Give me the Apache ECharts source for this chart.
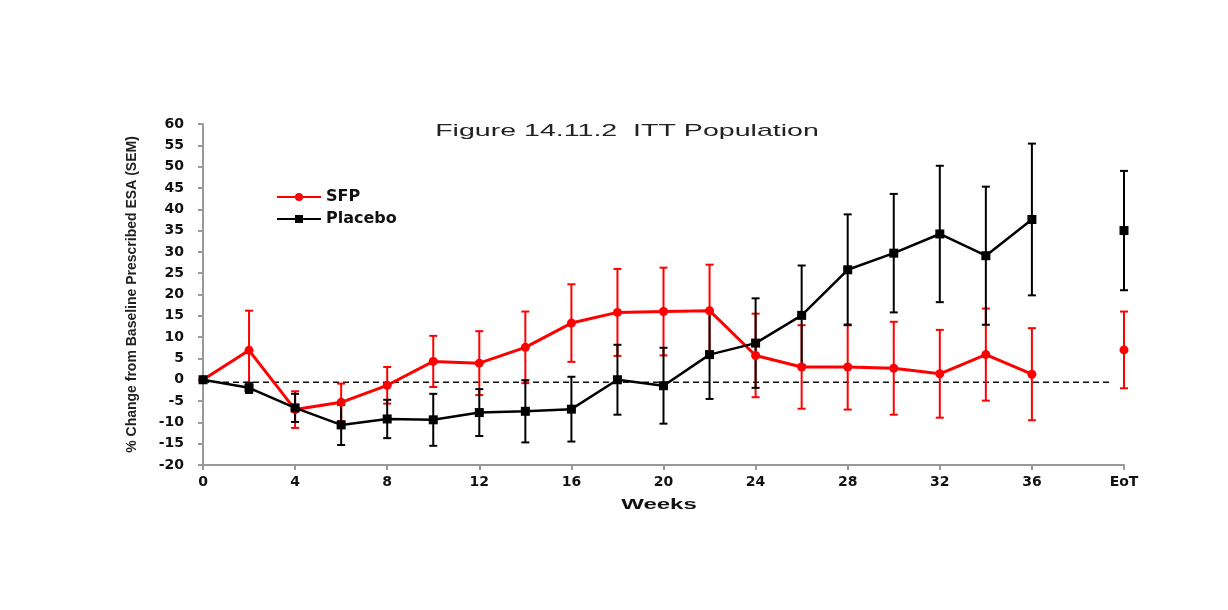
<!DOCTYPE html>
<html>
<head>
<meta charset="utf-8">
<script src="https://cdn.jsdelivr.net/npm/echarts@6/dist/echarts.min.js"></script>
<style>
  html, body { margin: 0; padding: 0; background: #fff; }
  #chart { width: 1228px; height: 610px; }
</style>
</head>
<body>
<div id="chart"></div>
<script>
// weeks 0..36, end of treatment drawn apart at x = 40
var weeks = [0, 2, 4, 6, 8, 10, 12, 14, 16, 18, 20, 22, 24, 26, 28, 30, 32, 34, 36];
var eotX = 40;
var eotLabel = "EoT";

var sfpMean = [0, 6.9, -7.0, -5.3, -1.3, 4.3, 3.9, 7.6, 13.3, 15.8, 16.0, 16.2, 5.7, 3.0, 3.0, 2.7, 1.4, 5.9, 1.3];
var sfpSem = [0, 9.3, 4.3, 4.4, 4.3, 6.0, 7.5, 8.4, 9.1, 10.2, 10.3, 10.8, 9.8, 9.8, 10.0, 10.9, 10.3, 10.8, 10.8];
var sfpEot = 7.0, sfpEotSem = 9.0;

var pboMean = [0, -1.9, -6.6, -10.6, -9.2, -9.4, -7.7, -7.4, -6.9, 0, -1.4, 5.9, 8.6, 15.1, 25.8, 29.7, 34.2, 29.1, 37.6];
var pboSem = [0, 1.2, 3.3, 4.7, 4.5, 6.1, 5.5, 7.3, 7.6, 8.2, 8.9, 10.4, 10.5, 11.7, 13.0, 13.9, 16.0, 16.2, 17.8];
var pboEot = 35.0, pboEotSem = 14.0;

var baselineX = [0, 39.4];
var baselineY = -0.6;

var yTicks = { min: -20, max: 60, step: 5 };
var xTicks = { min: 0, max: 40, step: 4 };

function lineData(mean, eot) {
  var d = weeks.map(function (w, i) { return [w, mean[i]]; });
  d.push([38, '-']);
  d.push([eotX, eot]);
  return d;
}
function barData(mean, sem, eot, eotSem) {
  var d = weeks.map(function (w, i) { return [w, mean[i] - sem[i], mean[i] + sem[i]]; });
  d.push([eotX, eot - eotSem, eot + eotSem]);
  return d;
}
function errorBars(color) {
  return function (params, api) {
    var lo = api.coord([api.value(0), api.value(1)]);
    var hi = api.coord([api.value(0), api.value(2)]);
    var w = 4;
    var st = { stroke: color, lineWidth: 2 };
    return {
      type: 'group',
      children: [
        { type: 'line', shape: { x1: lo[0], y1: lo[1], x2: hi[0], y2: hi[1] }, style: st },
        { type: 'line', shape: { x1: lo[0] - w, y1: lo[1], x2: lo[0] + w, y2: lo[1] }, style: st },
        { type: 'line', shape: { x1: hi[0] - w, y1: hi[1], x2: hi[0] + w, y2: hi[1] }, style: st }
      ]
    };
  };
}

var chart = echarts.init(document.getElementById('chart'));
var font = 'Liberation Sans, Arial, sans-serif';
var wide = 'DejaVu Sans, Verdana, sans-serif';
chart.setOption({
  animation: false,
  textStyle: { fontFamily: font },
  // the source picture is stretched sideways, so these texts are widened too
  graphic: [
    {
      type: 'text', x: 627, y: 131, scaleX: 1.68,
      style: {
        text: 'Figure 14.11.2  ITT Population', align: 'center', verticalAlign: 'middle',
        font: 'normal 17px Liberation Sans, Arial, sans-serif', fill: '#222'
      }
    },
    {
      type: 'text', x: 659, y: 505, scaleX: 1.6,
      style: {
        text: 'Weeks', align: 'center', verticalAlign: 'middle',
        font: 'bold 15px Liberation Sans, Arial, sans-serif', fill: '#111'
      }
    }
  ],
  legend: {
    orient: 'vertical', left: 271, top: 184, itemGap: 6, itemWidth: 44, itemHeight: 10,
    data: ['SFP', 'Placebo'],
    textStyle: { fontSize: 16, fontWeight: 'bold', color: '#111', fontFamily: wide }
  },
  grid: { left: 203, right: 104, top: 124, bottom: 145 },
  xAxis: {
    type: 'value', min: xTicks.min, max: xTicks.max, interval: xTicks.step,
    axisLine: { onZero: false, lineStyle: { color: '#999', width: 2 } },
    axisTick: { length: 5, lineStyle: { color: '#999', width: 2 } },
    axisLabel: {
      fontSize: 14, fontWeight: 'bold', color: '#111', margin: 10, fontFamily: wide,
      formatter: function (v) { return v === eotX ? eotLabel : String(v); }
    },
    splitLine: { show: false }
  },
  yAxis: {
    type: 'value', min: yTicks.min, max: yTicks.max, interval: yTicks.step,
    name: '% Change from Baseline Prescribed ESA (SEM)', nameLocation: 'middle', nameGap: 64,
    nameRotate: 90,
    nameTextStyle: { fontSize: 14, fontWeight: 'bold', color: '#222', fontFamily: font },
    axisLine: { show: true, onZero: false, lineStyle: { color: '#999', width: 2 } },
    axisTick: { show: true, length: 5, lineStyle: { color: '#999', width: 2 } },
    axisLabel: { fontSize: 14, fontWeight: 'bold', color: '#111', margin: 19, fontFamily: wide },
    splitLine: { show: false }
  },
  series: [
    {
      name: 'baseline', type: 'line', silent: true, symbol: 'none',
      data: baselineX.map(function (x) { return [x, baselineY]; }),
      lineStyle: { color: '#111', width: 1.5, type: [6, 4] }, z: 1
    },
    {
      name: 'SFP bars', type: 'custom', renderItem: errorBars('#f00'),
      data: barData(sfpMean, sfpSem, sfpEot, sfpEotSem), z: 2
    },
    {
      name: 'Placebo bars', type: 'custom', renderItem: errorBars('#000'),
      data: barData(pboMean, pboSem, pboEot, pboEotSem), z: 2
    },
    {
      name: 'SFP', type: 'line', data: lineData(sfpMean, sfpEot),
      symbol: 'circle', symbolSize: 9, connectNulls: false,
      itemStyle: { color: '#f00' }, lineStyle: { color: '#f00', width: 3 }, z: 3
    },
    {
      name: 'Placebo', type: 'line', data: lineData(pboMean, pboEot),
      symbol: 'rect', symbolSize: 9, connectNulls: false,
      itemStyle: { color: '#000' }, lineStyle: { color: '#000', width: 2.5 }, z: 4
    }
  ]
});
</script>
</body>
</html>
